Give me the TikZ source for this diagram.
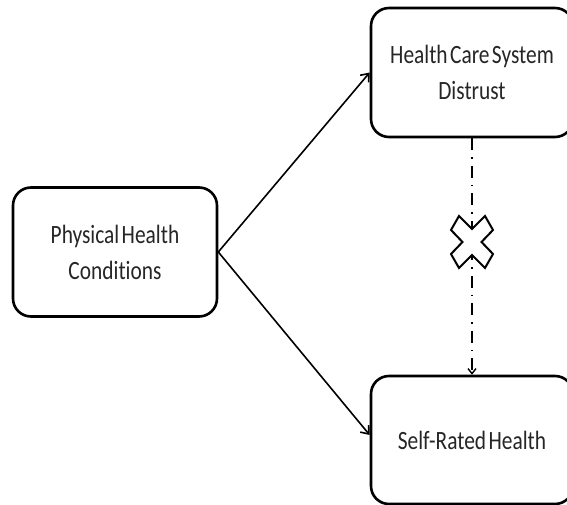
\documentclass[tikz,border=0pt]{standalone}
\usepackage{fontspec}
\setmainfont[Ligatures=NoCommon, WordSpace=0.5]{Carlito}
\usetikzlibrary{arrows.meta}
\newcommand{\narrow}[1]{\scalebox{0.81}[1]{#1}}
\begin{document}
\begin{tikzpicture}[x=1pt,y=-1pt,
  box/.style={draw=black, line width=2.6pt, rounded corners=18pt, fill=white,
    minimum width=204pt, minimum height=129pt, align=center, inner sep=0pt,
    text=black!85, font=\fontsize{26.4}{36}\selectfont},
  link/.style={line width=1.6pt, -{Straight Barb[length=7pt,width=11pt,line width=1.6pt]}},
  nolink/.style={line width=1.5pt, dash pattern=on 12pt off 7pt on 1.5pt off 7pt,
    -{Straight Barb[length=5pt,width=8pt,line width=1.4pt]}},
  cross/.style={draw=black, line width=2pt, fill=white, line join=miter}]
  \clip (0,0) rectangle (567,505);
  \fill[white] (0,0) rectangle (567,505);

  \node[box] (phys) at (115,252) {\narrow{Physical Health}\\\narrow{Conditions}};
  \node[box, minimum width=202pt] (trust) at (472,72.5) {\narrow{Health Care System}\\\narrow{Distrust}};
  \node[box, minimum width=202pt, minimum height=128pt] (srh) at (472,440) {\narrow{Self-Rated Health}};

  \draw[link] (phys.east) -- (trust.west);
  \draw[link] (phys.east) -- (srh.west |- 0,435);
  \draw[nolink] (trust.south) -- (srh.north);

  % crossed-out mark over the broken path
  \coordinate (nopath) at (472,242);
  \draw[cross, shift={(nopath)}]
    (-13,-26) -- (0,-13) -- (13,-26) -- (21,-12) -- (9.5,0) -- (21,12)
    -- (13,26) -- (0,13) -- (-13,26) -- (-21,12) -- (-9.5,0) -- (-21,-12) -- cycle;
\end{tikzpicture}
\end{document}
